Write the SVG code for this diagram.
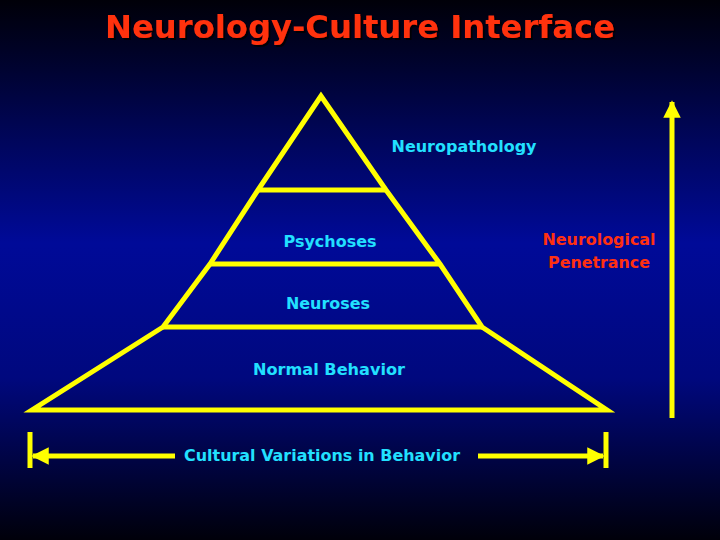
<svg xmlns="http://www.w3.org/2000/svg" width="720" height="540" viewBox="0 0 720 540">
<defs>
<linearGradient id="bg" x1="0" y1="0" x2="0" y2="1">
<stop offset="0" stop-color="#000008"/>
<stop offset="0.45" stop-color="#000a98"/>
<stop offset="0.7" stop-color="#00087e"/>
<stop offset="1" stop-color="#00000a"/>
</linearGradient>
<marker id="ah" viewBox="0 0 10 10" refX="9" refY="5" markerWidth="3.5" markerHeight="3.5" orient="auto-start-reverse" markerUnits="strokeWidth">
<path d="M0,0 L10,5 L0,10 z" fill="#ffff00"/>
</marker>
<filter id="sh"><feDropShadow dx="2" dy="2" stdDeviation="0.5" flood-color="#000" flood-opacity="0.8"/></filter>
</defs>
<style>
.y{stroke:#ffff00;stroke-width:5;fill:none;stroke-linejoin:miter}
.l{font-family:"DejaVu Sans",sans-serif;font-size:15px;fill:#22e0ff;text-anchor:middle;font-weight:bold}
.r{font-family:"DejaVu Sans",sans-serif;font-size:15px;fill:#ff3010;text-anchor:middle;font-weight:bold}
</style>
<rect width="720" height="540" fill="url(#bg)"/>
<text x="360" y="38" font-family="DejaVu Sans,sans-serif" font-weight="bold" font-size="32" fill="#ff3010" text-anchor="middle" textLength="510" lengthAdjust="spacingAndGlyphs" filter="url(#sh)">Neurology-Culture Interface</text>
<g id="pyramid">
<path class="y" d="M321,96 L258,190 L210,264 L163,327 L32,410 L607,410 L482,327 L440,264 L386,190 Z"/>
<line class="y" x1="258" y1="190" x2="386" y2="190"/>
<line class="y" x1="210" y1="264" x2="440" y2="264"/>
<line class="y" x1="163" y1="327" x2="482" y2="327"/>
</g>
<g id="labels">
<text class="l" x="464" y="152" textLength="145" lengthAdjust="spacingAndGlyphs">Neuropathology</text>
<text class="l" x="330" y="247" textLength="93" lengthAdjust="spacingAndGlyphs">Psychoses</text>
<text class="l" x="328" y="309" textLength="84" lengthAdjust="spacingAndGlyphs">Neuroses</text>
<text class="l" x="329" y="375" textLength="152" lengthAdjust="spacingAndGlyphs">Normal Behavior</text>
<text class="l" x="322" y="461" textLength="276" lengthAdjust="spacingAndGlyphs">Cultural Variations in Behavior</text>
<text class="r" x="599" y="245" textLength="113" lengthAdjust="spacingAndGlyphs">Neurological</text>
<text class="r" x="599" y="268" textLength="102" lengthAdjust="spacingAndGlyphs">Penetrance</text>
</g>
<g id="connectors">
<line class="y" x1="30" y1="432" x2="30" y2="468" stroke-width="4"/>
<line class="y" x1="606" y1="432" x2="606" y2="468" stroke-width="4"/>
<line class="y" x1="175" y1="456" x2="33" y2="456" marker-end="url(#ah)"/>
<line class="y" x1="478" y1="456" x2="603" y2="456" marker-end="url(#ah)"/>
<line class="y" x1="672" y1="418" x2="672" y2="102" marker-end="url(#ah)"/>
</g>
</svg>
